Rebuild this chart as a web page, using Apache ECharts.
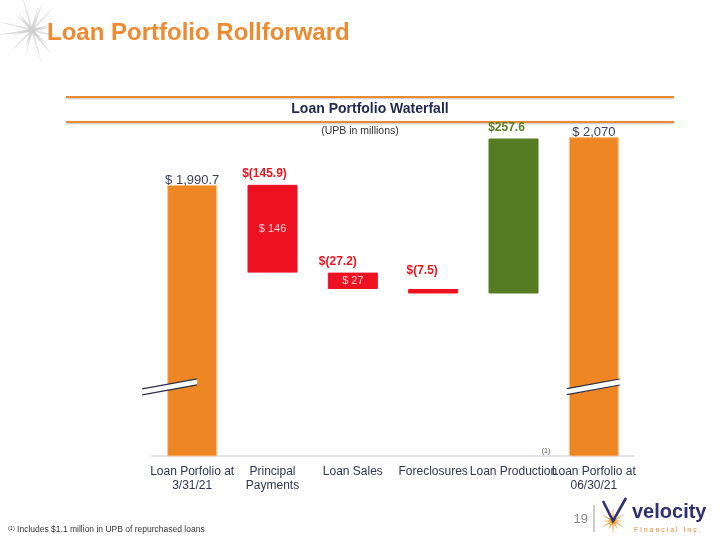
<!DOCTYPE html>
<html><head><meta charset="utf-8">
<script src="https://cdn.jsdelivr.net/npm/echarts@6/dist/echarts.min.js"></script>
<style>html,body{margin:0;padding:0;background:#fff}#c{width:720px;height:540px}</style>
</head><body><div id="c"></div>
<script>
// ---- data ----
const categories = ['Loan Porfolio at\n3/31/21', 'Principal\nPayments', 'Loan Sales', 'Foreclosures', 'Loan Production', 'Loan Porfolio at\n06/30/21'];
const startValue = 1990.7;
const changes = [-145.9, -27.2, -7.5, 257.6];
const endValue = 2070;
const topLabels = ['$ 1,990.7', '$(145.9)', '$(27.2)', '$(7.5)', '$257.6', '$ 2,070'];
const innerLabels = ['', '$ 146', '$ 27', '', '', ''];
const breakValue = 1655;
const yMin = 1540, yMax = 2140;

// ---- waterfall bases ----
const base = [0], height = [startValue];
let run = startValue;
changes.forEach(d => {
  if (d < 0) { run += d; base.push(run); height.push(-d); }
  else { base.push(run); height.push(d); run += d; }
});
base.push(0); height.push(endValue);

const ORANGE = '#ee8723', RED = '#ee1122', GREEN = '#557c22', NAVY = '#3a3f5e';
const FONT = 'Liberation Sans, Arial, sans-serif';
const barColor = (i) => i === 0 || i === 5 ? ORANGE : (changes[i - 1] < 0 ? RED : GREEN);
const labelStyle = (i) => {
  if (i === 0 || i === 5) return { color: NAVY, fontWeight: 'normal', fontSize: 13, distance: 0, offset: [0, 2] };
  if (changes[i - 1] < 0) return { color: '#e8141e', fontWeight: 'bold', fontSize: 12, distance: i === 3 ? 12 : 5, offset: [[0, -8, -15, -11][i], 0] };
  return { color: '#5a7d22', fontWeight: 'bold', fontSize: 12, distance: 5, offset: [-7, 0] };
};

const BAR_W = 50;
const chart = echarts.init(document.getElementById('c'), null, { renderer: 'canvas' });

// decorative star shape helper
function starPoints(cx, cy, spikes, rot, inner) {
  const pts = [];
  const n = spikes.length;
  spikes.forEach((r, k) => {
    const a = rot + k * 2 * Math.PI / n;
    const a2 = a + Math.PI / n;
    pts.push([cx + r * Math.cos(a), cy + r * Math.sin(a)]);
    pts.push([cx + inner * Math.cos(a2), cy + inner * Math.sin(a2)]);
  });
  return pts;
}

const option = {
  animation: false,
  grid: { left: 152, right: 86, top: 95, bottom: 84, outerBoundsMode: 'none' },
  xAxis: {
    type: 'category', data: categories,
    axisLine: { lineStyle: { color: '#e4e4f0', width: 2 } },
    axisTick: { show: false },
    axisLabel: { interval: 0, fontSize: 12, color: '#2f3552', lineHeight: 14, margin: 9, fontFamily: FONT }
  },
  yAxis: { type: 'value', min: yMin, max: yMax, show: false, splitLine: { show: false } },
  series: [
    { type: 'bar', stack: 'w', barWidth: BAR_W, data: base, itemStyle: { color: 'transparent' }, silent: true },
    {
      type: 'bar', stack: 'w', barWidth: BAR_W,
      data: height.map((v, i) => ({
        value: v,
        itemStyle: { color: barColor(i), borderColor: (i === 0 || i === 5) ? '#f7c48f' : barColor(i), borderWidth: 1 },
        label: Object.assign({ show: true, position: 'top', fontFamily: FONT, formatter: () => topLabels[i] }, labelStyle(i))
      }))
    },
    {
      type: 'scatter', symbolSize: 1, itemStyle: { color: 'transparent' },
      data: innerLabels.map((t, i) => t ? [i, base[i] + height[i] / 2] : null).filter(Boolean),
      label: { show: true, position: 'inside', color: '#fff', fontSize: 11, fontFamily: FONT, formatter: p => innerLabels[p.value[0]] }
    },
    {
      type: 'custom', z: 10, clip: false,
      data: [[0, breakValue], [5, breakValue]],
      renderItem(params, api) {
        const p = api.coord([api.value(0), api.value(1)]);
        const i = api.value(0);
        const x1 = i === 0 ? p[0] - BAR_W / 2 - 25 : p[0] - BAR_W / 2 - 2;
        const x2 = i === 0 ? p[0] + BAR_W / 2 - 20 : p[0] + BAR_W / 2 + 1;
        const rise = 10 * (x2 - x1) / 55, gap = 6;
        const yL = p[1] + rise / 2, yR = p[1] - rise / 2;
        const st = { stroke: '#2a2f4a', lineWidth: 1.2 };
        return { type: 'group', children: [
          { type: 'polygon', shape: { points: [[x1, yL - gap / 2], [x2, yR - gap / 2], [x2, yR + gap / 2], [x1, yL + gap / 2]] }, style: { fill: '#fff' } },
          { type: 'line', shape: { x1: x1, y1: yL - gap / 2, x2: x2, y2: yR - gap / 2 }, style: st },
          { type: 'line', shape: { x1: x1, y1: yL + gap / 2, x2: x2, y2: yR + gap / 2 }, style: st }
        ] };
      }
    }
  ],
  graphic: [
    { type: 'polygon', shape: { points: starPoints(32, 30, [40, 26, 36, 22, 42, 24, 38, 28, 34, 22, 40, 26], -1.85, 4) }, style: { fill: '#d6d6d6', opacity: 0.75 }, z: 0 },
    { type: 'polygon', shape: { points: starPoints(32, 30, [30, 20, 32, 18, 34, 22], -1.2, 3) }, style: { fill: '#c4c4c4', opacity: 0.6 }, z: 0 },
    { type: 'text', left: 47, top: 21, style: { text: 'Loan Portfolio Rollforward', fill: '#ee8a30', font: 'bold 24px ' + FONT }, z: 5 },
    { type: 'line', shape: { x1: 66, y1: 97, x2: 674, y2: 97 }, style: { stroke: '#ee8a30', lineWidth: 2, shadowColor: 'rgba(0,0,0,0.25)', shadowBlur: 2, shadowOffsetY: 1 } },
    { type: 'line', shape: { x1: 66, y1: 122, x2: 674, y2: 122 }, style: { stroke: '#ee8a30', lineWidth: 2, shadowColor: 'rgba(0,0,0,0.25)', shadowBlur: 2, shadowOffsetY: 1 } },
    { type: 'text', x: 370, y: 109, style: { text: 'Loan Portfolio Waterfall', fill: '#1f2a4e', font: 'bold 14px ' + FONT, align: 'center', verticalAlign: 'middle' } },
    { type: 'text', x: 360, y: 131, style: { text: '(UPB in millions)', fill: '#333', font: '10.5px ' + FONT, align: 'center', verticalAlign: 'middle' } },
    { type: 'text', x: 546, y: 451, style: { text: '(1)', fill: '#555', font: '7px ' + FONT, align: 'center', verticalAlign: 'middle' } },
    { type: 'text', x: 8, y: 530, style: { text: '{s|(1)} Includes $1.1 million in UPB of repurchased loans', fill: '#333', font: '8.5px ' + FONT, verticalAlign: 'middle', rich: { s: { fontSize: 5.5, verticalAlign: 'top', fill: '#333', padding: [0, 0, 4, 0] } } } },
    { type: 'text', x: 588, y: 519, style: { text: '19', fill: '#888', font: '13px ' + FONT, align: 'right', verticalAlign: 'middle' } },
    { type: 'line', shape: { x1: 594, y1: 505, x2: 594, y2: 532 }, style: { stroke: '#999', lineWidth: 1 } },
    { type: 'polygon', shape: { points: starPoints(613, 521, [14, 10, 14, 10, 14, 10, 14, 10, 14, 10, 14, 10], -1.57, 3) }, style: { fill: '#f2a03a' } },
    { type: 'polyline', shape: { points: [[603, 501], [613, 521], [626, 498]] }, style: { stroke: '#2e3070', lineWidth: 2.6, fill: null } },
    { type: 'text', x: 632, y: 512, style: { text: 'velocity', fill: '#2e3070', font: 'bold 20px ' + FONT, verticalAlign: 'middle' } },
    { type: 'text', x: 634, y: 530, style: { text: 'F i n a n c i a l   I n c .', fill: '#ee8a30', font: '7px ' + FONT, verticalAlign: 'middle' } }
  ]
};
chart.setOption(option);
</script>
</body></html>
